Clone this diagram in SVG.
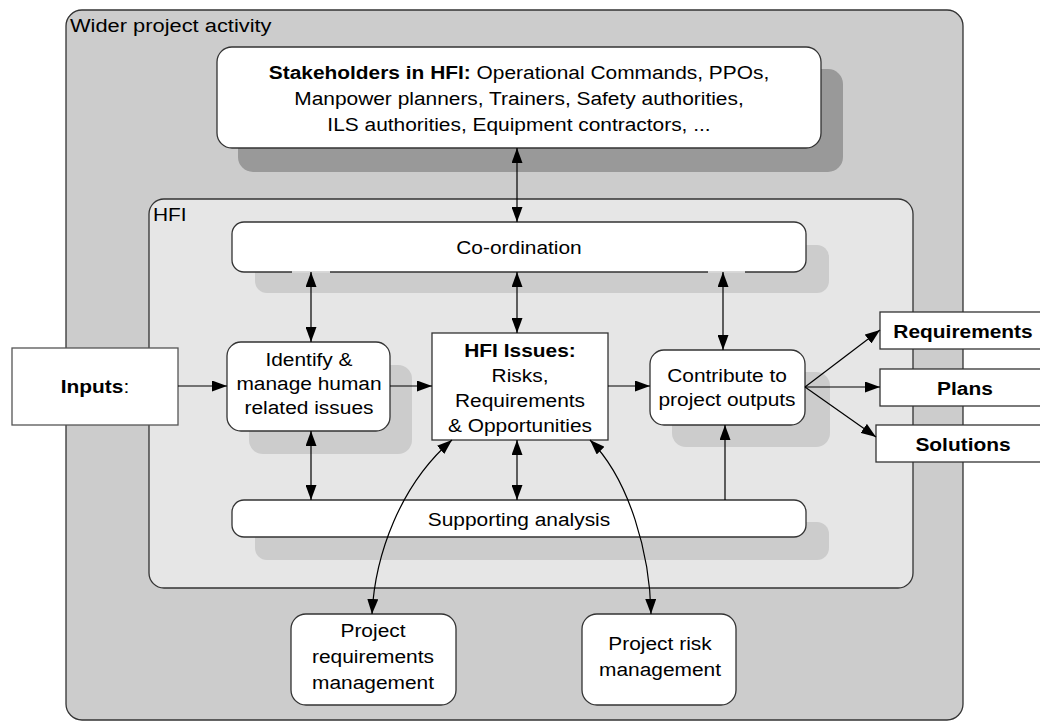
<svg xmlns="http://www.w3.org/2000/svg" width="1040" height="722" viewBox="0 0 1040 722">
<defs>
<marker id="ah" viewBox="0 0 15 11" refX="15" refY="5.5" markerWidth="15" markerHeight="11" markerUnits="userSpaceOnUse" orient="auto-start-reverse">
<path d="M0,0 L15,5.5 L0,11 Z" fill="#000"/>
</marker>
</defs>
<style>
text{font-family:"Liberation Sans",Arial,sans-serif;font-size:19px;fill:#000}
.c{text-anchor:middle}
.b{font-weight:bold}
.box{fill:#fff;stroke:#333;stroke-width:1.3}
.sq{fill:#fff;stroke:#333;stroke-width:1.3}
.sh{fill:#ccc}
.con{fill:none;stroke:#000;stroke-width:1.2}
</style>
<rect width="1040" height="722" fill="#fff"/>
<g id="wider">
<rect x="66" y="10" width="897" height="710" rx="16" fill="#ccc" stroke="#333" stroke-width="1.3"/>
<text transform="matrix(1.15,0,0,1,70,32)">Wider project activity</text>
</g>
<g id="stakeholders">
<rect x="238" y="69" width="605" height="103" rx="15" fill="#999"/>
<rect class="box" x="217" y="47" width="604" height="101" rx="15"/>
<text class="c" transform="matrix(1.1,0,0,1,519,79)"><tspan class="b">Stakeholders in HFI:</tspan> Operational Commands, PPOs,</text>
<text class="c" transform="matrix(1.1,0,0,1,519,105)">Manpower planners, Trainers, Safety authorities,</text>
<text class="c" transform="matrix(1.1,0,0,1,519,131)">ILS authorities, Equipment contractors, ...</text>
</g>
<g id="hfi">
<rect x="149" y="199" width="764" height="389" rx="15" fill="#e6e6e6" stroke="#333" stroke-width="1.3"/>
<text transform="matrix(1.1,0,0,1,153,221)">HFI</text>
</g>
<g id="coordination">
<rect class="sh" x="255" y="245" width="574" height="48" rx="12"/>
<rect class="box" x="232" y="222" width="574" height="50" rx="12"/>
<path d="M292,272 H330 M708,272 H745" stroke="#fff" stroke-width="1.6"/>
<text class="c" transform="matrix(1.1,0,0,1,519,254)">Co-ordination</text>
</g>
<g id="inputs">
<rect x="12" y="348" width="166" height="77" fill="#fff" stroke="#555" stroke-width="1.3"/>
<text class="c" transform="matrix(1.1,0,0,1,95,393)"><tspan class="b">Inputs</tspan>:</text>
</g>
<g id="identify">
<rect class="sh" x="249" y="365" width="163" height="89" rx="14"/>
<rect class="box" x="227" y="342" width="163" height="89" rx="14"/>
<text class="c" transform="matrix(1.1,0,0,1,309,366)">Identify &amp;</text>
<text class="c" transform="matrix(1.1,0,0,1,309,390)">manage human</text>
<text class="c" transform="matrix(1.1,0,0,1,309,414)">related issues</text>
</g>
<g id="issues">
<rect class="sq" x="432" y="333" width="176" height="107"/>
<text class="c b" transform="matrix(1.1,0,0,1,520,357)">HFI Issues:</text>
<text class="c" transform="matrix(1.1,0,0,1,520,382)">Risks,</text>
<text class="c" transform="matrix(1.1,0,0,1,520,407)">Requirements</text>
<text class="c" transform="matrix(1.1,0,0,1,520,432)">&amp; Opportunities</text>
</g>
<g id="contribute">
<rect class="sh" x="672" y="372" width="158" height="75" rx="14"/>
<rect class="box" x="650" y="350" width="155" height="75" rx="14"/>
<text class="c" transform="matrix(1.1,0,0,1,727,382)">Contribute to</text>
<text class="c" transform="matrix(1.1,0,0,1,727,406)">project outputs</text>
</g>
<g id="requirements">
<rect class="sq" x="880" y="312" width="170" height="37"/>
<text class="c b" transform="matrix(1.1,0,0,1,963,338)">Requirements</text>
</g>
<g id="plans">
<rect class="sq" x="880" y="369" width="170" height="37"/>
<text class="c b" transform="matrix(1.1,0,0,1,965,395)">Plans</text>
</g>
<g id="solutions">
<rect class="sq" x="876" y="425" width="174" height="37"/>
<text class="c b" transform="matrix(1.1,0,0,1,963,451)">Solutions</text>
</g>
<g id="supporting">
<rect class="sh" x="255" y="522" width="574" height="38" rx="12"/>
<rect class="box" x="232" y="500" width="574" height="37" rx="12"/>
<text class="c" transform="matrix(1.1,0,0,1,519,526)">Supporting analysis</text>
</g>
<g id="projreq">
<rect class="box" x="291" y="614" width="165" height="91" rx="15"/>
<text class="c" transform="matrix(1.1,0,0,1,373,637)">Project</text>
<text class="c" transform="matrix(1.1,0,0,1,373,663)">requirements</text>
<text class="c" transform="matrix(1.1,0,0,1,373,689)">management</text>
</g>
<g id="projrisk">
<rect class="box" x="582" y="614" width="154" height="91" rx="15"/>
<text class="c" transform="matrix(1.1,0,0,1,660,650)">Project risk</text>
<text class="c" transform="matrix(1.1,0,0,1,660,676)">management</text>
</g>
<g id="connectors">
<path class="con" d="M517,148 V222" marker-start="url(#ah)" marker-end="url(#ah)"/>
<path class="con" d="M311,272 V342" marker-start="url(#ah)" marker-end="url(#ah)"/>
<path class="con" d="M517,272 V333" marker-start="url(#ah)" marker-end="url(#ah)"/>
<path class="con" d="M723,272 V350" marker-start="url(#ah)" marker-end="url(#ah)"/>
<path class="con" d="M178,386 H227" marker-end="url(#ah)"/>
<path class="con" d="M390,386 H432" marker-end="url(#ah)"/>
<path class="con" d="M608,386 H650" marker-end="url(#ah)"/>
<path class="con" d="M805,387 L880,330" marker-end="url(#ah)"/>
<path class="con" d="M805,387 H880" marker-end="url(#ah)"/>
<path class="con" d="M805,387 L876,437" marker-end="url(#ah)"/>
<path class="con" d="M311,431 V500" marker-start="url(#ah)" marker-end="url(#ah)"/>
<path class="con" d="M517,440 V500" marker-start="url(#ah)" marker-end="url(#ah)"/>
<path class="con" d="M725,500 V425" marker-end="url(#ah)"/>
<path class="con" d="M452,440 C400,485 375,555 372,614" marker-start="url(#ah)" marker-end="url(#ah)"/>
<path class="con" d="M590,440 C630,480 650,555 651,614" marker-start="url(#ah)" marker-end="url(#ah)"/>
</g>
</svg>
